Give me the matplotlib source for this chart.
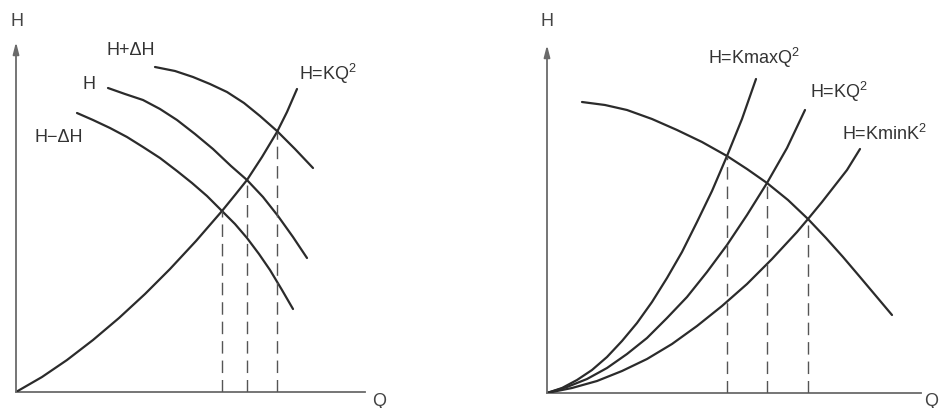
import matplotlib
matplotlib.use("Agg")
import matplotlib.pyplot as plt

plt.rcParams["font.family"] = ["Liberation Sans", "DejaVu Sans"]
plt.rcParams["mathtext.fontset"] = "custom"
plt.rcParams["mathtext.rm"] = "Liberation Sans"

# ---- left panel: pump curves H, H+dH, H-dH and system curve H=KQ^2 ----
q_hplus = [139, 159, 177, 194, 211, 228, 244, 261, 279, 297]
h_hplus = [325, 321, 315, 308, 300, 289, 276, 261, 243, 224]

q_h = [92, 109, 127, 144, 161, 179, 197, 215, 231, 247, 262, 277, 291]
h_h = [304, 298, 292, 283, 272, 258, 243, 226, 212, 195, 176, 155, 134]

q_hminus = [61, 77, 94, 111, 127, 144, 161, 176, 191, 206, 219, 231, 243, 254, 266, 277]
h_hminus = [279, 272, 264, 255, 245, 234, 221, 209, 196, 181, 168, 154, 138, 122, 102, 83]

q_sys = [0, 26, 51, 77, 103, 129, 154, 180, 206, 219, 231, 246, 261, 271, 281]
h_sys = [0, 15, 32, 52, 74, 98, 123, 151, 181, 197, 212, 235, 260, 280, 303]

q_op_left = [206, 231, 261]
h_op_left = [181, 212, 260]

# ---- right panel: pump curve and three system curves ----
q_pump = [35, 58, 80, 105, 130, 155, 180, 200, 220, 241, 261, 279, 296, 313, 329, 345]
h_pump = [291, 288, 283, 274, 263, 251, 237, 224, 210, 193, 174, 155, 136, 116, 97, 78]

q_kmax = [0, 15, 30, 45, 60, 75, 90, 105, 120, 135, 150, 165, 180, 195, 209]
h_kmax = [0, 5, 13, 23, 36, 52, 70, 91, 115, 141, 171, 202, 237, 274, 314]

q_k = [0, 20, 40, 60, 80, 100, 120, 140, 160, 180, 200, 220, 240, 258]
h_k = [0, 6, 14, 25, 39, 55, 75, 96, 121, 148, 178, 210, 245, 283]

q_kmin = [0, 25, 50, 75, 100, 125, 150, 175, 200, 225, 250, 261, 275, 300, 313]
h_kmin = [0, 5, 12, 22, 34, 49, 67, 87, 109, 134, 161, 174, 191, 223, 244]

q_op_right = [180, 220, 261]
h_op_right = [237, 210, 174]

W, H = 942, 408
fig = plt.figure(figsize=(W / 100, H / 100), dpi=100)

curve_kw = dict(color="#2b2b2b", lw=1.6, solid_capstyle="round", solid_joinstyle="round")
dash_kw = dict(color="#555555", lw=1.0, dashes=(9, 5))
axis_col = "#6a6a6a"
fs = 13
txt_col = "#333333"


def make_axes(ox, oy, xlen, ylen):
    # origin and axis lengths, in pixels
    ax = fig.add_axes([ox / W, (H - oy) / H, xlen / W, ylen / H])
    ax.set_xlim(0, xlen)
    ax.set_ylim(0, ylen)
    ax.axis("off")
    ax.plot([0, xlen], [0, 0], color=axis_col, lw=1.3, clip_on=False)
    ax.annotate("", xy=(0, ylen), xytext=(0, 0),
                arrowprops=dict(arrowstyle="-|>,head_length=0.7,head_width=0.18",
                                color=axis_col, lw=1.3, shrinkA=0, shrinkB=0),
                annotation_clip=False)
    return ax


# left
ax1 = make_axes(16, 392, 349, 350)
ax1.plot(q_hplus, h_hplus, **curve_kw)
ax1.plot(q_h, h_h, **curve_kw)
ax1.plot(q_hminus, h_hminus, **curve_kw)
ax1.plot(q_sys, h_sys, **curve_kw)
for q, h in zip(q_op_left, h_op_left):
    ax1.plot([q, q], [0, h], **dash_kw)

ax1.text(1, 371, "H", fontsize=fs, color="#444444", ha="center", va="center")
ax1.text(363, -9, "Q", fontsize=fs, color="#444444", ha="center", va="center")
ax1.text(91, 342, "H+ΔH", fontsize=fs, color=txt_col, ha="left", va="center")
ax1.text(67, 308, "H", fontsize=fs, color=txt_col, ha="left", va="center")
ax1.text(19, 254, "H−ΔH", fontsize=fs, color=txt_col, ha="left", va="center")
ax1.text(283, 318, r"H=KQ$^\mathrm{2}$", fontsize=fs, color=txt_col, ha="left", va="center")

# right
ax2 = make_axes(547, 393, 374, 348)
ax2.plot(q_pump, h_pump, **curve_kw)
ax2.plot(q_kmax, h_kmax, **curve_kw)
ax2.plot(q_k, h_k, **curve_kw)
ax2.plot(q_kmin, h_kmin, **curve_kw)
for q, h in zip(q_op_right, h_op_right):
    ax2.plot([q, q], [0, h], **dash_kw)

ax2.text(0, 371, "H", fontsize=fs, color="#444444", ha="center", va="center")
ax2.text(377, -8, "Q", fontsize=fs, color="#444444", ha="left", va="center")
ax2.text(161, 335, r"H=KmaxQ$^\mathrm{2}$", fontsize=fs, color=txt_col, ha="left", va="center")
ax2.text(263, 301, r"H=KQ$^\mathrm{2}$", fontsize=fs, color=txt_col, ha="left", va="center")
ax2.text(295, 259, r"H=KminK$^\mathrm{2}$", fontsize=fs, color=txt_col, ha="left", va="center")

fig.savefig("out.png", dpi=100, facecolor="white")
